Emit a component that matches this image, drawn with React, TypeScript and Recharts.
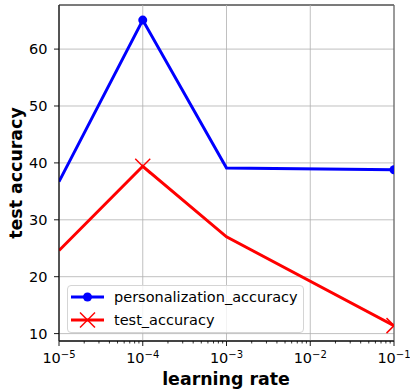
import { LineChart, Line, XAxis, YAxis, CartesianGrid, ReferenceLine, ReferenceArea, Label } from "recharts";

const learningRates = [1e-5, 1e-4, 1e-3, 1e-1];
const personalizationAccuracy = [36.7, 65.1, 39.1, 38.8];
const testAccuracy = [24.6, 39.4, 27.0, 11.4];
// only these points carry a marker in the original figure
const markedPoints = [1e-4, 1e-1];
const xMajorTicks = [1e-5, 1e-4, 1e-3, 1e-2, 1e-1];
const yTicks = [10, 20, 30, 40, 50, 60];
const yDomain = [8.7, 67.75];

const FONT = "'DejaVu Sans', sans-serif";

// minor log ticks 2..9 in each decade
const xMinorTicks: number[] = [];
for (let i = 0; i < xMajorTicks.length - 1; i++) {
    for (let m = 2; m <= 9; m++) xMinorTicks.push(m * xMajorTicks[i]);
}
const xTicks = [...xMajorTicks, ...xMinorTicks].sort((a, b) => a - b);

const dataChart = learningRates.map((lr, i) => ({
    lr,
    personalization_accuracy: personalizationAccuracy[i],
    test_accuracy: testAccuracy[i],
}));

function XTick({ x, y, payload }: any) {
    const v = payload.value;
    const exp = Math.round(Math.log10(v));
    const isMajor = Math.abs(v - Math.pow(10, exp)) / v < 1e-6;
    if (!isMajor) {
        return <line x1={x} x2={x} y1={y} y2={y + 2.5} stroke="#000" strokeWidth={0.8} />;
    }
    return (
        <g>
            <line x1={x} x2={x} y1={y} y2={y + 5} stroke="#000" strokeWidth={0.9} />
            <text x={x} y={y + 22} textAnchor="middle" fontFamily={FONT} fontSize={14.5} fill="#000">
                <tspan>10</tspan>
                <tspan dy={-5.5} fontSize={10}>{`\u2212${-exp}`}</tspan>
            </text>
        </g>
    );
}

function CircleDot({ cx, cy, index, payload }: any) {
    if (!markedPoints.includes(payload.lr)) return <g key={`c-${index}`} />;
    return <circle key={`c-${index}`} cx={cx} cy={cy} r={4.5} fill="#0000ff" />;
}

function CrossDot({ cx, cy, index, payload }: any) {
    if (!markedPoints.includes(payload.lr)) return <g key={`x-${index}`} />;
    const s = 7.5;
    return (
        <g key={`x-${index}`}>
            <line x1={cx - s} y1={cy - s} x2={cx + s} y2={cy + s} stroke="#ff0000" strokeWidth={1.5} />
            <line x1={cx - s} y1={cy + s} x2={cx + s} y2={cy - s} stroke="#ff0000" strokeWidth={1.5} />
        </g>
    );
}

function LegendBox() {
    const row = (color: string, marker: "circle" | "cross", name: string, top: number) => (
        <div style={{ position: "absolute", left: 0, top, height: 22, display: "flex", alignItems: "center" }}>
            <svg width={46} height={22} style={{ display: "block" }}>
                <line x1={3} x2={36} y1={11} y2={11} stroke={color} strokeWidth={3} />
                {marker === "circle"
                    ? <circle cx={19.5} cy={11} r={4.5} fill={color} />
                    : <g>
                        <line x1={12} y1={3.5} x2={27} y2={18.5} stroke={color} strokeWidth={1.5} />
                        <line x1={12} y1={18.5} x2={27} y2={3.5} stroke={color} strokeWidth={1.5} />
                    </g>}
            </svg>
            <span style={{ fontFamily: FONT, fontSize: 14.5, color: "#000", lineHeight: "22px" }}>{name}</span>
        </div>
    );
    return (
        <div style={{
            position: "absolute", left: 67, top: 285, width: 237, height: 48, boxSizing: "border-box",
            border: "1px solid #d5d5d5", borderRadius: 4, background: "rgba(255,255,255,0.8)",
        }}>
            {row("#0000ff", "circle", "personalization_accuracy", 0)}
            {row("#ff0000", "cross", "test_accuracy", 23)}
        </div>
    );
}

export default function App() {
    return (
        <div style={{ position: "absolute", left: 0, top: 0, width: 410, height: 392, background: "#fff" }}>
            <LineChart width={410} height={392} data={dataChart} margin={{ top: 5, right: 16, bottom: 21, left: 29 }}>
                <CartesianGrid vertical={false} stroke="#b0b0b0" strokeWidth={0.8} />
                {xMajorTicks.map(t => (
                    <ReferenceLine key={t} x={t} stroke="#b0b0b0" strokeWidth={0.8} />
                ))}
                <XAxis
                    dataKey="lr"
                    type="number"
                    scale="log"
                    domain={[1e-5, 1e-1]}
                    allowDataOverflow
                    ticks={xTicks}
                    interval={0}
                    height={30}
                    tickSize={0}
                    tickMargin={0}
                    tickLine={false}
                    axisLine={{ stroke: "#000", strokeWidth: 0.9 }}
                    tick={<XTick />}
                >
                    <Label content={() => (
                        <text x={226} y={385} textAnchor="middle" fontFamily={FONT} fontSize={17.4} fontWeight="bold" fill="#000">learning rate</text>
                    )} />
                </XAxis>
                <YAxis
                    type="number"
                    domain={yDomain}
                    allowDataOverflow
                    ticks={yTicks}
                    width={30}
                    tickSize={5}
                    tickMargin={6.5}
                    tickLine={{ stroke: "#000", strokeWidth: 0.9 }}
                    axisLine={{ stroke: "#000", strokeWidth: 0.9 }}
                    tick={{ fontFamily: FONT, fontSize: 14.5, fill: "#000" }}
                >
                    <Label content={() => (
                        <text x={22} y={173} transform="rotate(-90 22 173)" textAnchor="middle" fontFamily={FONT} fontSize={17.4} fontWeight="bold" fill="#000">test accuracy</text>
                    )} />
                </YAxis>
                <ReferenceArea x1={1e-5} x2={1e-1} y1={yDomain[0]} y2={yDomain[1]} fill="none" stroke="#000" strokeWidth={0.9} ifOverflow="visible" />
                <Line
                    dataKey="personalization_accuracy"
                    stroke="#0000ff"
                    strokeWidth={3}
                    dot={CircleDot}
                    activeDot={false}
                    isAnimationActive={false}
                />
                <Line
                    dataKey="test_accuracy"
                    stroke="#ff0000"
                    strokeWidth={3}
                    dot={CrossDot}
                    activeDot={false}
                    isAnimationActive={false}
                />
            </LineChart>
            <LegendBox />
        </div>
    );
}
